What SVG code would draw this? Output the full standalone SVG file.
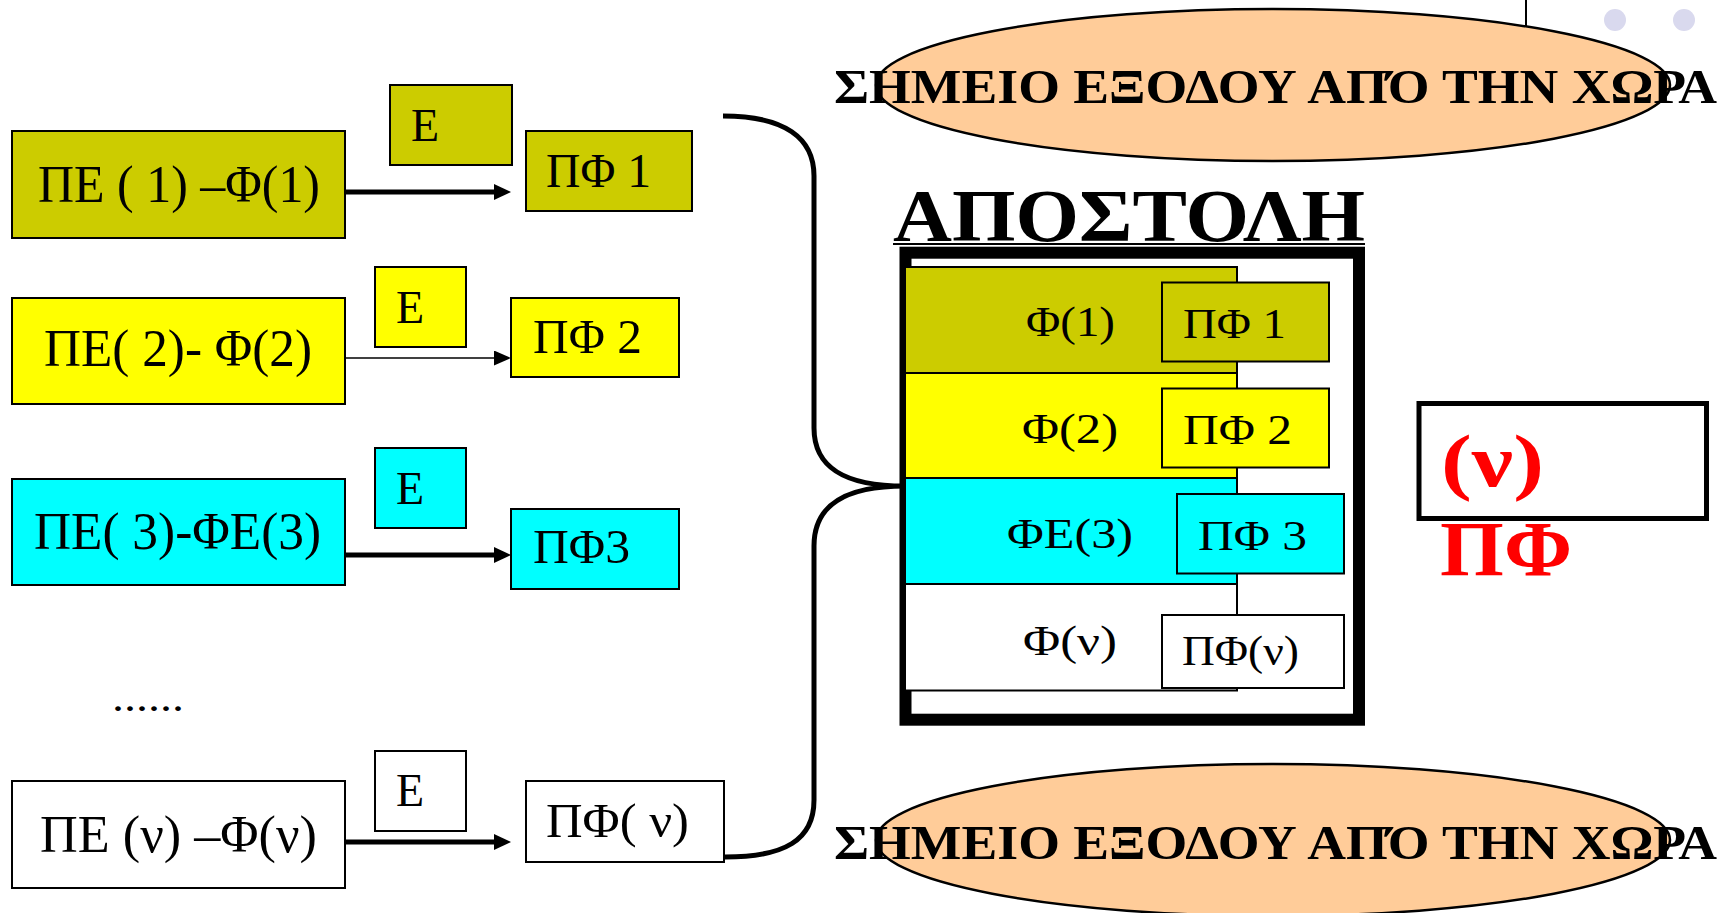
<svg xmlns="http://www.w3.org/2000/svg" width="1719" height="913" viewBox="0 0 1719 913">
<style>
.box{stroke:#000;stroke-width:2}
.olive{fill:#CCCC00}.yel{fill:#FFFF00}.cyan{fill:#00FFFF}.wh{fill:#FFFFFF}
.t{font-family:"Liberation Serif","DejaVu Serif",serif;fill:#000}
.big{font-size:52px}.mid{font-size:48px}.e{font-size:46px}.sm{font-size:43px}
.b{font-family:"Liberation Serif","DejaVu Serif",serif;font-weight:bold}
.conn{fill:none;stroke:#000}
</style>
<defs>
<marker id="ah" markerUnits="userSpaceOnUse" markerWidth="18" markerHeight="18" refX="0" refY="8" orient="auto"><polygon points="0,0 17,8 0,16" fill="#000"/></marker>
<marker id="ah2" markerUnits="userSpaceOnUse" markerWidth="18" markerHeight="16" refX="0" refY="7.5" orient="auto"><polygon points="0,0 17,7.5 0,15" fill="#000"/></marker>
</defs>
<rect width="1719" height="913" fill="#fff"/>

<g id="exit-top">
<ellipse cx="1273" cy="85" rx="397" ry="76" fill="#FFCC99" stroke="#000" stroke-width="2.5"/>
<text class="b" x="834" y="103" font-size="48" textLength="883" lengthAdjust="spacingAndGlyphs">ΣΗΜΕΙΟ ΕΞΟΔΟΥ ΑΠΌ ΤΗΝ ΧΩΡΑ</text>
</g>
<g id="exit-bottom">
<ellipse cx="1273" cy="840" rx="397" ry="76" fill="#FFCC99" stroke="#000" stroke-width="2.5"/>
<text class="b" x="834" y="859" font-size="48" textLength="883" lengthAdjust="spacingAndGlyphs">ΣΗΜΕΙΟ ΕΞΟΔΟΥ ΑΠΌ ΤΗΝ ΧΩΡΑ</text>
</g>

<g id="decor">
<line x1="1526" y1="0" x2="1526" y2="26" stroke="#000" stroke-width="2"/>
<circle cx="1615" cy="20" r="11" fill="#D9D9EE"/>
<circle cx="1684" cy="20" r="11" fill="#D9D9EE"/>
</g>

<g id="pe1">
<rect class="box olive" x="12" y="131" width="333" height="107"/>
<text class="t big" x="38" y="202" textLength="282" lengthAdjust="spacingAndGlyphs">ΠΕ ( 1) –Φ(1)</text>
</g>
<g id="e1">
<rect class="box olive" x="390" y="85" width="122" height="80"/>
<text class="t e" x="411" y="141">Ε</text>
</g>
<g id="pf1">
<rect class="box olive" x="526" y="131" width="166" height="80"/>
<text class="t mid" x="546" y="187" textLength="105" lengthAdjust="spacingAndGlyphs">ΠΦ 1</text>
</g>

<g id="pe2">
<rect class="box yel" x="12" y="298" width="333" height="106"/>
<text class="t big" x="44" y="366" textLength="268" lengthAdjust="spacingAndGlyphs">ΠΕ( 2)- Φ(2)</text>
</g>
<g id="e2">
<rect class="box yel" x="375" y="267" width="91" height="80"/>
<text class="t e" x="396" y="323">Ε</text>
</g>
<g id="pf2">
<rect class="box yel" x="511" y="298" width="168" height="79"/>
<text class="t mid" x="533" y="353" textLength="109" lengthAdjust="spacingAndGlyphs">ΠΦ 2</text>
</g>

<g id="pe3">
<rect class="box cyan" x="12" y="479" width="333" height="106"/>
<text class="t big" x="34" y="549" textLength="287" lengthAdjust="spacingAndGlyphs">ΠΕ( 3)-ΦΕ(3)</text>
</g>
<g id="e3">
<rect class="box cyan" x="375" y="448" width="91" height="80"/>
<text class="t e" x="396" y="504">Ε</text>
</g>
<g id="pf3">
<rect class="box cyan" x="511" y="509" width="168" height="80"/>
<text class="t mid" x="533" y="563" textLength="97" lengthAdjust="spacingAndGlyphs">ΠΦ3</text>
</g>

<g id="dots">
<text class="t" x="112" y="711" font-size="40" textLength="72" lengthAdjust="spacingAndGlyphs">......</text>
</g>

<g id="pen">
<rect class="box wh" x="12" y="781" width="333" height="107"/>
<text class="t big" x="40" y="852" textLength="277" lengthAdjust="spacingAndGlyphs">ΠΕ (ν) –Φ(ν)</text>
</g>
<g id="en">
<rect class="box wh" x="375" y="751" width="91" height="80"/>
<text class="t e" x="396" y="806">Ε</text>
</g>
<g id="pfn">
<rect class="box wh" x="526" y="781" width="198" height="81"/>
<text class="t mid" x="546" y="837" textLength="143" lengthAdjust="spacingAndGlyphs">ΠΦ( ν)</text>
</g>

<g id="apostoli">
<text class="b" x="893" y="241" font-size="75" textLength="472" lengthAdjust="spacingAndGlyphs">ΑΠΟΣΤΟΛΗ</text>
<line x1="893" y1="244" x2="1365" y2="244" stroke="#000" stroke-width="2"/>
<rect x="905.5" y="252.7" width="453.5" height="467" fill="#fff" stroke="#000" stroke-width="12"/>
<rect class="box olive" x="905" y="267" width="332" height="106"/>
<rect class="box yel" x="905" y="373" width="332" height="105"/>
<rect class="box cyan" x="905" y="478" width="332" height="106"/>
<rect class="box wh" x="905" y="584" width="332" height="106.5"/>
<text class="t sm" x="1026" y="336" textLength="89" lengthAdjust="spacingAndGlyphs">Φ(1)</text>
<text class="t sm" x="1022" y="443" textLength="96" lengthAdjust="spacingAndGlyphs">Φ(2)</text>
<text class="t sm" x="1007" y="548" textLength="126" lengthAdjust="spacingAndGlyphs">ΦΕ(3)</text>
<text class="t sm" x="1023" y="655" textLength="94" lengthAdjust="spacingAndGlyphs">Φ(ν)</text>
</g>
<g id="s-pf1">
<rect class="box olive" x="1162" y="282.5" width="167" height="79"/>
<text class="t sm" x="1183" y="338" textLength="103" lengthAdjust="spacingAndGlyphs">ΠΦ 1</text>
</g>
<g id="s-pf2">
<rect class="box yel" x="1162" y="388.5" width="167" height="79"/>
<text class="t sm" x="1183" y="444" textLength="109" lengthAdjust="spacingAndGlyphs">ΠΦ 2</text>
</g>
<g id="s-pf3">
<rect class="box cyan" x="1177" y="494" width="167" height="79.5"/>
<text class="t sm" x="1198" y="550" textLength="109" lengthAdjust="spacingAndGlyphs">ΠΦ 3</text>
</g>
<g id="s-pfn">
<rect class="box wh" x="1162" y="615" width="182" height="73"/>
<text class="t sm" x="1182" y="665" font-size="40" textLength="117" lengthAdjust="spacingAndGlyphs">ΠΦ(ν)</text>
</g>

<g id="nu-pf">
<rect x="1419" y="403.5" width="287.5" height="115" fill="#fff" stroke="#000" stroke-width="5"/>
<text class="b" x="1441" y="486" font-size="74" fill="#FF0000" textLength="103" lengthAdjust="spacingAndGlyphs">(ν)</text>
<text class="b" x="1440" y="575" font-size="78" fill="#FF0000" textLength="132" lengthAdjust="spacingAndGlyphs">ΠΦ</text>
</g>

<g id="connectors">
<line class="conn" x1="345" y1="192" x2="494" y2="192" stroke-width="5" marker-end="url(#ah)"/>
<line class="conn" x1="345" y1="358" x2="494" y2="358" stroke-width="1.5" marker-end="url(#ah2)"/>
<line class="conn" x1="345" y1="555" x2="494" y2="555" stroke-width="5" marker-end="url(#ah)"/>
<line class="conn" x1="345" y1="842" x2="494" y2="842" stroke-width="5" marker-end="url(#ah)"/>
<path class="conn" stroke-width="5" d="M723,116 C785,116 814,138 814,176 L814,428 C814,468 845,486 905,486 C845,486 814,505 814,546 L814,800 C814,840 785,857 725,857"/>
</g>
</svg>
